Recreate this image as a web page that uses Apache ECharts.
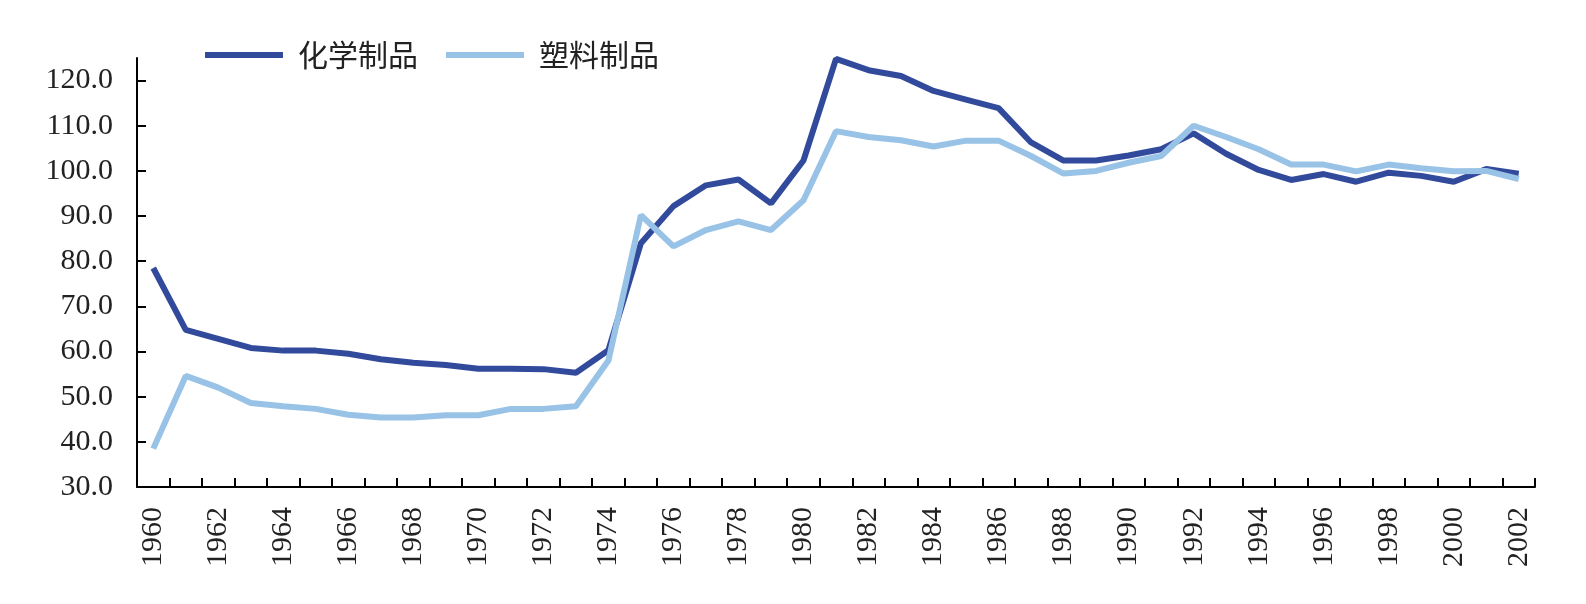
<!DOCTYPE html>
<html>
<head>
<meta charset="utf-8">
<script src="https://cdn.jsdelivr.net/npm/echarts@6/dist/echarts.min.js"></script>
<style>
    html, body { margin: 0; padding: 0; background: #fff; }
    #myChart { width: 1586px; height: 604px; }
</style>
</head>
<body>
<div id="myChart"></div>
<script>
var years = [];
for (var y = 1960; y <= 2002; y++) {
    years.push(String(y));
}

var chemical = [78.5, 64.8, 62.8, 60.8, 60.2, 60.2, 59.5, 58.3, 57.5, 57.0,
    56.2, 56.2, 56.1, 55.3, 60.3, 84.0, 92.2, 96.8, 98.1, 92.8,
    102.3, 124.8, 122.3, 121.0, 117.7, 115.8, 113.9, 106.3, 102.3, 102.3,
    103.4, 104.8, 108.3, 103.8, 100.2, 98.0, 99.3, 97.6, 99.6, 98.9,
    97.6, 100.4, 99.4];

var plastic = [38.5, 54.6, 52.0, 48.6, 47.9, 47.3, 46.0, 45.4, 45.4, 45.9,
    45.9, 47.3, 47.3, 47.9, 58.0, 90.2, 83.3, 86.9, 88.8, 86.9,
    93.5, 108.8, 107.5, 106.8, 105.4, 106.7, 106.7, 103.3, 99.4, 100.0,
    101.8, 103.3, 110.0, 107.5, 104.8, 101.4, 101.4, 99.9, 101.4, 100.6,
    99.9, 100.0, 98.2];

function create_image() {
    var myChart = echarts.init(document.getElementById('myChart'));
    var serif = '"Liberation Serif", "Times New Roman", serif';
    var option = {
        animation: false,
        backgroundColor: '#fff',
        legend: {
            left: 200,
            top: 35,
            itemWidth: 78,
            itemHeight: 6,
            itemGap: 28,
            icon: 'rect',
            textStyle: {
                fontFamily: '"Noto Sans CJK SC", sans-serif',
                fontSize: 30,
                color: '#222',
                padding: [0, 0, 0, 10]
            },
            data: ['化学制品', '塑料制品']
        },
        grid: {
            left: 137,
            right: 51,
            top: 58,
            bottom: 117
        },
        xAxis: {
            type: 'category',
            boundaryGap: true,
            data: years,
            axisLine: { lineStyle: { color: '#000', width: 2 } },
            axisTick: {
                show: true,
                inside: true,
                interval: 0,
                length: 9,
                lineStyle: { color: '#000', width: 2 }
            },
            axisLabel: {
                interval: 1,
                rotate: 90,
                margin: 20,
                fontFamily: serif,
                fontSize: 30,
                color: '#222'
            }
        },
        yAxis: {
            type: 'value',
            min: 30,
            max: 125,
            interval: 10,
            splitLine: { show: false },
            axisLine: { show: true, lineStyle: { color: '#000', width: 2 } },
            axisTick: {
                show: true,
                inside: true,
                length: 9,
                lineStyle: { color: '#000', width: 2 }
            },
            axisLabel: {
                showMaxLabel: false,
                margin: 24,
                fontFamily: serif,
                fontSize: 30,
                color: '#222',
                formatter: function (v) { return v.toFixed(1); }
            }
        },
        series: [{
            name: '化学制品',
            type: 'line',
            symbol: 'none',
            color: '#324A9B',
            lineStyle: { width: 6, color: '#324A9B' },
            data: chemical
        }, {
            name: '塑料制品',
            type: 'line',
            symbol: 'none',
            color: '#98C3E6',
            lineStyle: { width: 6, color: '#98C3E6' },
            data: plastic
        }]
    };
    myChart.setOption(option);
}

create_image();
</script>
</body>
</html>
